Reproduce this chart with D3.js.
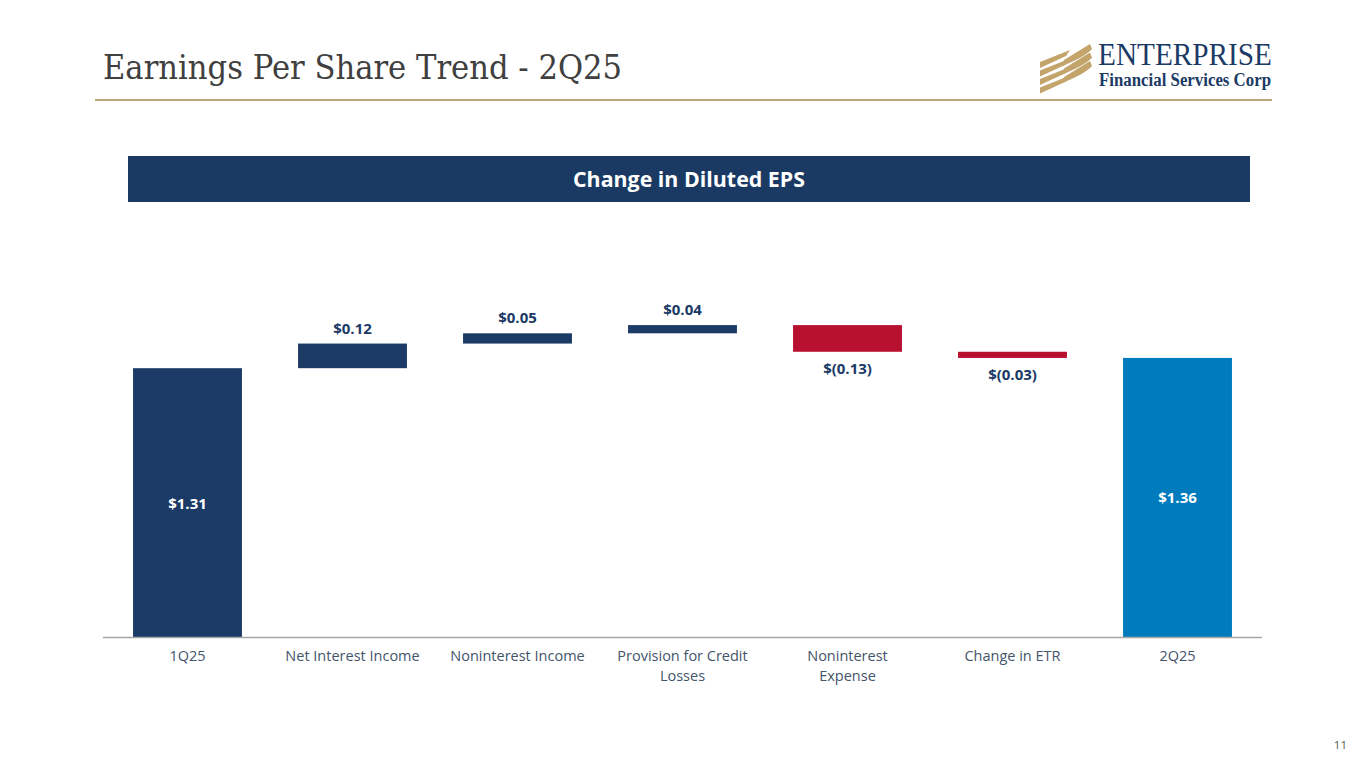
<!DOCTYPE html>
<html><head><meta charset="utf-8">
<script src="https://cdn.jsdelivr.net/npm/d3@7"></script>
<style>html,body{margin:0;padding:0;background:#fff;}svg{display:block;}</style>
</head><body>
<svg id="c" width="1365" height="768"></svg>
<script>
const categories = ["1Q25","Net Interest Income","Noninterest Income","Provision for Credit Losses","Noninterest Expense","Change in ETR","2Q25"];
const changes = [1.31, 0.12, 0.05, 0.04, -0.13, -0.03, 1.36];
const kinds = ["total","delta","delta","delta","delta","delta","total"];
const valueLabels = ["$1.31","$0.12","$0.05","$0.04","$(0.13)","$(0.03)","$1.36"];
const labelLines = [["1Q25"],["Net Interest Income"],["Noninterest Income"],["Provision for Credit","Losses"],["Noninterest","Expense"],["Change in ETR"],["2Q25"]];

const svg = d3.select("#c");
const navy = "#1b3a65", red = "#b8102f", blue = "#007bbd";
const font = "'Open Sans','Noto Sans',sans-serif";

// header
svg.append("text").attr("x",103).attr("y",79).attr("font-family","'DejaVu Serif',Georgia,serif")
  .attr("font-size",33).attr("fill","#404040").attr("textLength",519).attr("lengthAdjust","spacingAndGlyphs")
  .text("Earnings Per Share Trend - 2Q25");
svg.append("rect").attr("x",95).attr("y",99).attr("width",1177).attr("height",2).attr("fill","#bfa67a");

// logo
const logo = svg.append("g").attr("fill","#c3a46b");
for (let i=0;i<4;i++){
  const yb = 62 + i*8.5;
  logo.append("path").attr("d",`M1040,${yb} L1040,${yb+6} L1066,${yb-6} L1070,${yb-12} Z`);
}
for (let i=0;i<3;i++){
  const yb = 60 + i*8.5;
  logo.append("path").attr("d",`M1064,${yb} L1062,${yb+6} Q1085,${yb-3} 1092,${yb-11} L1090,${yb-16} Z`);
}
svg.append("text").attr("x",1098).attr("y",65).attr("font-family","'Liberation Serif','DejaVu Serif',serif")
  .attr("font-size",31).attr("fill","#1b3a65").attr("textLength",174).attr("lengthAdjust","spacingAndGlyphs").text("ENTERPRISE");
svg.append("text").attr("x",1099).attr("y",86).attr("font-family","'Liberation Serif','DejaVu Serif',serif")
  .attr("font-size",18).attr("font-weight","bold").attr("fill","#1b3a65").attr("textLength",172).attr("lengthAdjust","spacingAndGlyphs").text("Financial Services Corp");

// banner
svg.append("rect").attr("x",128).attr("y",156).attr("width",1122).attr("height",46).attr("fill","#1a3a63");
svg.append("text").attr("x",573).attr("y",187).attr("font-family",font)
  .attr("font-weight","bold").attr("font-size",21).attr("fill","#fff")
  .attr("textLength",232).attr("lengthAdjust","spacingAndGlyphs").text("Change in Diluted EPS");

// chart
const x = d3.scaleBand().domain(categories).range([105,1260]).paddingInner(0.34).paddingOuter(0.17);
const y = d3.scaleLinear().domain([0,1.5]).range([637, 637-1.5*205.2]);

let run = 0;
const bars = categories.map((c,i)=>{
  let lo, hi;
  if (kinds[i]==="total") { lo=0; hi=changes[i]; run=changes[i]; }
  else { const s=run; run=run+changes[i]; lo=Math.min(s,run); hi=Math.max(s,run); }
  const color = kinds[i]==="total" ? (i===0?navy:blue) : (changes[i]>=0?navy:red);
  return {c, lo, hi, color, v:changes[i], kind:kinds[i], label:valueLabels[i]};
});

const g = svg.append("g");
g.selectAll("rect.bar").data(bars).enter().append("rect")
  .attr("x",d=>x(d.c)).attr("width",x.bandwidth())
  .attr("y",d=>y(d.hi)).attr("height",d=>y(d.lo)-y(d.hi)).attr("fill",d=>d.color);

g.selectAll("text.val").data(bars).enter().append("text")
  .attr("x",d=>x(d.c)+x.bandwidth()/2)
  .attr("y",d=> d.kind==="total" ? (y(0)+y(d.hi))/2+6 : (d.v>=0 ? y(d.hi)-10 : y(d.lo)+22))
  .attr("text-anchor","middle").attr("font-family",font).attr("font-weight","bold").attr("font-size",15)
  .attr("fill",d=>d.kind==="total"?"#fff":navy).text(d=>d.label);

// axis
const axis = d3.axisBottom(x).tickSize(0).tickFormat("");
const ag = svg.append("g").attr("transform",`translate(0,${y(0)})`).call(axis);
ag.select(".domain").attr("stroke","#a6a6a6").attr("stroke-width",1.3).attr("d","M103,0.5H1262");
categories.forEach((c,i)=>{
  const cx = x(c)+x.bandwidth()/2;
  const t = svg.append("text").attr("x",cx).attr("y",661).attr("text-anchor","middle")
    .attr("font-family",font).attr("font-size",14.5).attr("fill","#44546a");
  labelLines[i].forEach((l,j)=>t.append("tspan").attr("x",cx).attr("dy",j?20:0).text(l));
});

svg.append("text").attr("x",1347).attr("y",749).attr("text-anchor","end").attr("font-family",font)
  .attr("font-size",11.5).attr("fill","#595959").text("11");
</script>
</body></html>
